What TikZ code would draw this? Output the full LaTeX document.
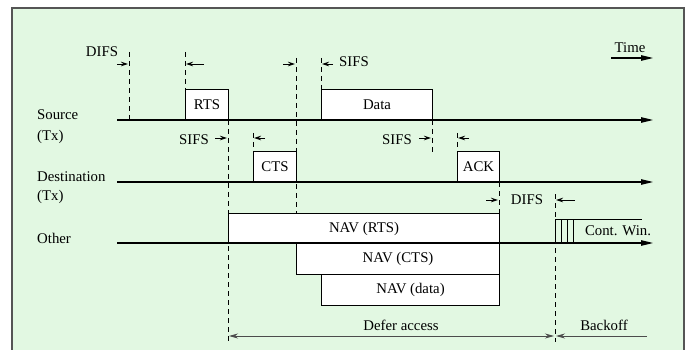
\documentclass[tikz,border=0pt]{standalone}
\usepackage{fontspec}
\setmainfont{Liberation Serif}
\usetikzlibrary{arrows.meta}
\definecolor{bg}{RGB}{226,248,226}
\definecolor{framecol}{RGB}{85,85,85}
\begin{document}
\begin{tikzpicture}[x=1pt,y=-1pt,
  font=\fontsize{14.8}{17}\selectfont,
  txt/.style={inner sep=0pt},
  pkt/.style={draw, line width=1pt, fill=white, inner sep=0pt, anchor=north west},
  tline/.style={line width=1.1pt, -{Triangle[length=12pt,width=5.5pt]}},
  guide/.style={line width=0.9pt, dash pattern=on 5pt off 4pt},
  tick/.style={line width=0.9pt, -{Stealth[length=7pt,width=4.5pt]}},
  span/.style={line width=0.8pt, black!70, -{Stealth[length=9pt,width=5pt]}},
  cw/.style={line width=0.9pt},
]
\useasboundingbox (0,0) rectangle (691,350);
\clip (0,0) rectangle (691,350);
\fill[white] (0,0) rectangle (691,350);
\draw[fill=bg, draw=framecol, line width=1.5pt] (12,8) rectangle (684,372);

% guide (dashed) lines
\draw[guide] (129,52) -- (129,120);
\draw[guide] (185,52) -- (185,89);
\draw[guide] (228,120) -- (228,342);
\draw[guide] (296,58) -- (296,213);
\draw[guide] (321,58) -- (321,89);
\draw[guide] (253,133) -- (253,151);
\draw[guide] (432,120) -- (432,152);
\draw[guide] (457,133) -- (457,151);
\draw[guide] (499,182) -- (499,213);
\draw[guide] (555,194) -- (555,342);

% packets
\node[pkt, minimum width=43pt, minimum height=31pt] (rts) at (185,89) {RTS};
\node[pkt, minimum width=111pt, minimum height=31pt] (data) at (321,89) {Data};
\node[pkt, minimum width=43pt, minimum height=31pt] (cts) at (253,151) {CTS};
\node[pkt, minimum width=42pt, minimum height=31pt] (ack) at (457,151) {ACK};
\node[pkt, minimum width=271pt, minimum height=30pt] (navrts) at (228,213) {NAV (RTS)};
\node[pkt, minimum width=203pt, minimum height=31pt] (navcts) at (296,243) {NAV (CTS)};
\node[pkt, minimum width=178pt, minimum height=31pt] (navdata) at (321,274) {NAV (data)};

% contention window
\coordinate (cwa) at (555,243);
\coordinate (cwb) at (555,219);
\coordinate (cwc) at (642,219);
\draw[cw] (cwa) -- (cwb) -- (cwc);
\draw[cw] (561,219) -- (561,243);
\draw[cw] (567,219) -- (567,243);
\draw[cw] (573,219) -- (573,243);
\node[txt] (cwl) at (618,231) {Cont. Win.};

% time lines
\coordinate (srcA) at (117,120); \coordinate (srcB) at (653,120);
\coordinate (dstA) at (117,182); \coordinate (dstB) at (653,182);
\coordinate (othA) at (117,243); \coordinate (othB) at (653,243);
\draw[tline] (srcA) -- (srcB);
\draw[tline] (dstA) -- (dstB);
\draw[tline] (othA) -- (othB);

% time arrow
\node[txt] (time) at (630,48) {Time};
\coordinate (timeA) at (611,58); \coordinate (timeB) at (653,58);
\draw[tline] (timeA) -- (timeB);

% row labels
\node[txt, anchor=west] (src) at (37,115) {Source};
\node[txt, anchor=west] (srctx) at (37,137) {(Tx)};
\node[txt, anchor=west] (dst) at (37,177) {Destination};
\node[txt, anchor=west] (dsttx) at (37,197) {(Tx)};
\node[txt, anchor=west] (oth) at (37,238) {Other};

% interval labels
\node[txt] (difs1) at (102,52) {DIFS};
\node[txt] (sifs1) at (354,62) {SIFS};
\node[txt] (sifs2) at (194,140) {SIFS};
\node[txt] (sifs3) at (397,140) {SIFS};
\node[txt] (difs2) at (527,200) {DIFS};

% interval ticks
\coordinate (t1a) at (117,64);  \coordinate (t1b) at (128,64);
\coordinate (t2a) at (204,64);  \coordinate (t2b) at (186,64);
\coordinate (t3a) at (283,64);  \coordinate (t3b) at (295,64);
\coordinate (t4a) at (333,64);  \coordinate (t4b) at (322,64);
\coordinate (t5a) at (215,138); \coordinate (t5b) at (227,138);
\coordinate (t6a) at (265,138); \coordinate (t6b) at (254,138);
\coordinate (t7a) at (419,138); \coordinate (t7b) at (431,138);
\coordinate (t8a) at (469,138); \coordinate (t8b) at (458,138);
\coordinate (t9a) at (486,200); \coordinate (t9b) at (498,200);
\coordinate (t10a) at (575,200); \coordinate (t10b) at (556,200);
\foreach \k in {1,...,10} {\draw[tick] (t\k a) -- (t\k b);}

% defer / backoff
\coordinate (defA) at (229,336); \coordinate (defB) at (554,336);
\coordinate (bkA) at (647,336); \coordinate (bkB) at (556,336);
\draw[span, {Stealth[length=9pt,width=5pt]}-{Stealth[length=9pt,width=5pt]}] (defA) -- (defB);
\draw[span] (bkA) -- (bkB);
\node[txt] (defer) at (401,325) {Defer access};
\node[txt] (backoff) at (604,325) {Backoff};
\end{tikzpicture}
\end{document}
